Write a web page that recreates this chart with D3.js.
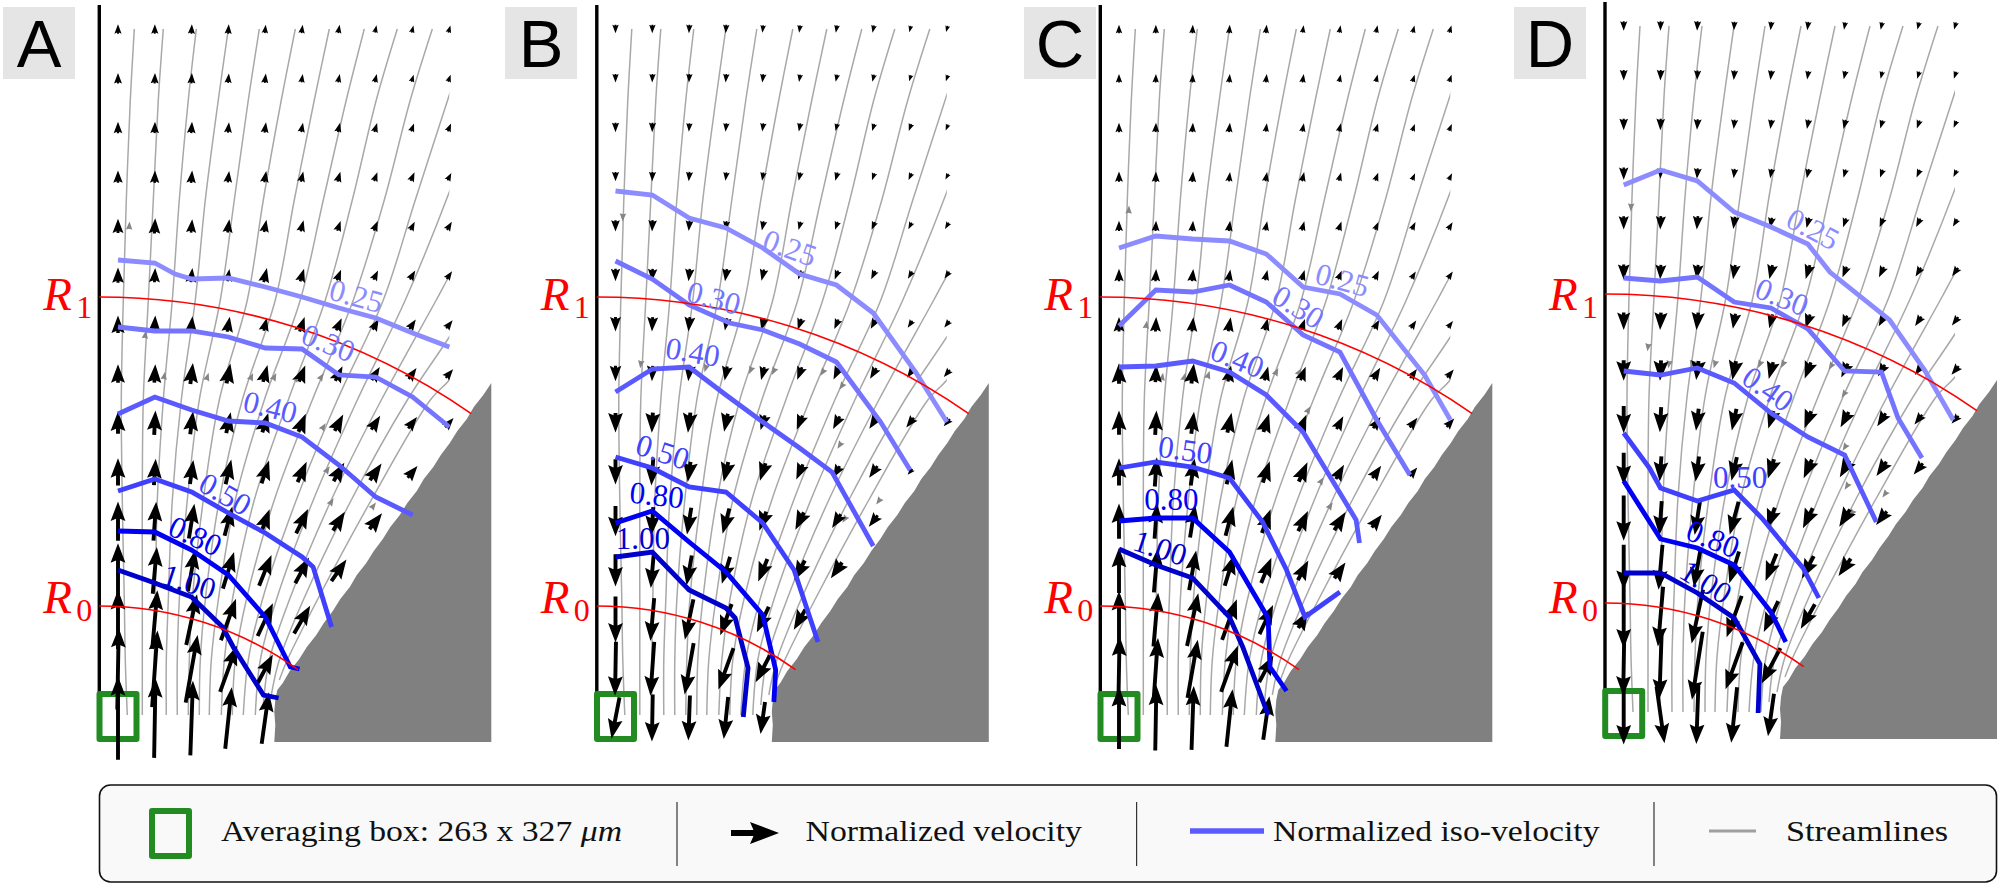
<!DOCTYPE html>
<html><head><meta charset="utf-8">
<script src="https://cdn.jsdelivr.net/npm/d3@7"></script>
<style>html,body{margin:0;padding:0;background:#fff}svg{display:block}</style>
</head><body><svg id="c" width="2000" height="887"></svg>
<script>
// ---------- categories ----------
const panelNames = ["A","B","C","D"];
const panelAxisX = [99.3,596.8,1100.3,1605];
const panelShiftY = [0,0,0,-3];
const tagX = [3,505,1024,1514];
const flowSign = [1,-1,1,-1];          // +1 flow towards the top, -1 towards the bottom
const isoLevels = ["0.25","0.30","0.40","0.50","0.80","1.00"];
const isoColors = ["#8c8cff","#7474ff","#5a5aff","#4040ff","#0000f5","#0000cc"];
const rowCols = [10,10,10,10,10,10,10,10,10,9,8,7,6,5,5]; // arrows per grid row

// ---------- normalized speed (percent), per grid row ----------
const speedA = [
[14,14,14,14,12,12,12,10,10,10],[16,16,16,14,14,12,12,12,10,10],[18,18,18,16,16,14,14,14,12,12],
[20,20,20,18,18,16,16,14,14,12],[24,26,22,22,20,18,16,16,14,14],[26,24,24,20,24,22,18,16,16,14],
[30,30,28,26,22,26,22,20,18,16],[32,32,38,36,30,30,28,26,22,18],[40,44,42,38,36,34,32,28,24,20],
[50,48,44,46,44,40,38,36,26],[74,74,66,56,46,50,40,36],[104,90,80,72,62,54,48],
[114,114,100,84,68,60],[160,150,134,94,60],[164,156,146,120,100]];
const speedB = [
[12,12,12,12,10,10,10,10,8,8],[12,12,12,12,12,10,10,10,8,8],[14,14,12,12,12,12,10,10,10,8],
[14,14,14,12,12,12,12,10,10,8],[18,18,16,14,14,12,12,12,10,10],[20,20,20,20,18,14,14,14,12,12],
[24,24,24,20,20,18,16,16,12,12],[26,26,26,24,22,22,22,20,16,14],[34,36,36,32,26,26,24,24,20,14],
[46,50,36,36,32,28,22,24,10],[56,52,50,48,36,34,28,24],[60,66,56,52,44,40,34],
[88,82,78,62,52,42],[104,104,100,84,56],[80,90,86,80,60]];
const speedC = [
[12,12,12,12,12,10,10,10,10,10],[12,12,12,12,12,12,10,10,10,10],[14,14,14,14,12,12,12,12,10,10],
[16,16,16,14,14,14,12,12,10,10],[16,16,16,16,14,14,14,12,12,12],[20,20,20,18,16,16,14,14,12,12],
[24,24,24,24,20,18,18,16,14,12],[36,30,36,28,24,24,24,22,18,16],[44,44,40,36,34,30,24,22,20,18],
[50,54,50,46,40,38,28,26,18],[66,66,62,56,46,40,38,28],[86,84,76,60,50,40,34],
[110,104,104,82,60,34],[126,120,114,94,56],[120,126,124,112,84]];
const speedD = [
[14,14,14,12,12,12,10,10,10,10],[16,16,14,14,14,12,12,10,10,10],[18,18,16,14,14,14,14,12,12,10],
[20,16,16,14,14,14,12,12,12,10],[22,22,22,20,16,16,14,14,14,12],[26,24,24,24,24,24,18,18,16,16],
[30,30,30,26,24,24,20,18,18,16],[36,36,34,34,30,30,26,22,18,18],[50,46,40,40,32,32,30,26,20,16],
[60,46,46,44,36,36,34,30,24],[86,64,64,64,40,40,36,30],[86,86,76,62,54,46,38],
[124,116,106,84,64,52],[116,128,134,96,76],[114,110,112,108,82]];
const speeds = [speedA,speedB,speedC,speedD];

// ---------- tilt of the velocity from the vertical, degrees ----------
const tilt = [
[0,1,3,4,6,8,10,12,14,16],[0,2,3,5,7,9,12,14,17,19],[0,2,4,6,8,11,14,17,20,23],
[0,2,5,7,10,13,16,20,24,27],[0,3,5,8,11,15,19,23,27,31],[0,3,6,9,13,17,22,26,31,35],
[0,3,6,10,14,19,24,29,34,38],[0,3,7,11,15,21,26,31,36,40],[0,3,7,12,17,22,28,33,38,42],
[0,4,8,13,18,24,30,35,40],[0,4,9,15,20,26,32,38],[0,5,10,17,22,28,35],
[0,5,12,20,25,30],[1,4,10,20,28],[0,1,2,6,8]];
const tiltExceptions = [[1,14,0,11],[3,14,1,-8],[3,13,1,2],[3,13,2,9]]; // panel,row,col,deg

// ---------- iso-velocity lines: [grid column, height] ----------
const isoA = [
[[0,260],[1,263],[1.55,274],[2,279],[3,278],[4,287],[5,297],[6,308],[7,318],[8,333],[9,347]],
[[0,327],[1,331],[2,331],[3,337],[4,348],[5,349],[6,375],[7,377],[8,397],[9,427]],
[[0,414],[1,397],[2,410],[3,421],[4,423],[5,437],[6,465],[7,497],[8,515]],
[[0,491],[1,479],[2,492],[3,513],[4,533],[5,557],[5.3,567],[5.8,627]],
[[0,531],[1,532],[2,550],[3,575],[4,617],[4.68,667],[4.93,669]],
[[0,570],[1,583],[2,597],[2.84,627],[3.13,647],[3.95,695],[4.36,698]]];
const isoB = [
[[0,191],[1,195],[2,218],[3,228],[4,248],[5,274],[6,285],[7,313],[8.15,372],[9,422]],
[[0,261],[1,279],[2,305],[3.1,323],[4,330],[5,344],[6,362],[7.2,422],[8,470]],
[[0,392],[1,369],[2,367],[3,395],[4,422],[5,448],[5.88,472],[7,546]],
[[0,457],[1,468],[2,487],[3,492],[4,523],[4.85,570],[5.5,642]],
[[0,523],[1,511],[2,542],[3,572],[4,615],[4.35,670],[4.3,702]],
[[0,557],[1,552],[2,590],[3,608],[3.25,618],[3.6,668],[3.47,717]]];
const isoC = [
[[0,248],[1,236],[2,239],[3,241],[4,254],[5,287],[6,294],[7,315],[8.3,375],[9,420]],
[[0,326],[1,290],[2,292],[3,285],[4,302],[5,335],[6,352],[7,420],[7.9,475]],
[[0,367],[1,366],[2,361],[3,372],[4,395],[5,432],[6,493],[6.44,520],[6.53,543]],
[[6,592],[5.05,617],[4.55,570],[3.9,522],[3,478],[2,467],[1,462],[0,468]],
[[0,521],[1,518],[2,518],[3,552],[4.05,618],[4.1,667],[4.55,691]],
[[0,549],[1,565],[2,578],[3,617],[3.36,647],[4.05,715]]];
const isoD = [
[[0,185],[1,170],[2,181],[3,212],[4,227],[5,244],[5.6,272],[7.22,320],[8.17,370],[8.95,420]],
[[0,278],[1,281],[2,277],[3,302],[4,308],[5,329],[6,371],[7,372],[7.45,418],[8.1,458]],
[[0,371],[1,375],[2,368],[3,383],[4,413],[5,437],[6,455],[6.86,522]],
[[0,433],[0.7,468],[1,488],[2,501],[3,490],[3.75,518],[4.87,568],[5.3,598]],
[[0,481],[1,539],[2,548],[3,565],[4,612],[4.4,642]],
[[0,573],[1,573],[2,593],[3,618],[3.7,664],[3.65,713]]];
const isoLines = [isoA,isoB,isoC,isoD];

// ---------- contour labels: [across, height, rotation] (same order as isoLevels) ----------
const labelsA = [[257,296,15],[229,343,22],[171,407,14],[126,494,30],[96,536,25],[90,582,18]];
const labelsB = [[193,248,20],[117,298,15],[96,352,10],[66,452,18],[60,495,6],[46,538,0]];
const labelsC = [[242,280,15],[198,307,32],[137,359,22],[85,450,8],[71,499,0],[60,548,18]];
const labelsD = [[208,229,28],[177,297,22],[163,389,35],[135,477,0],[108,539,22],[101,582,32]];
const isoLabels = [labelsA,labelsB,labelsC,labelsD];

// ---------- streamlines: [across, height] ----------
const streamlines = [
[[28,715],[26,660],[25,600],[23,500],[22,400],[24,300],[27,200],[31,100],[35,29]],
[[43,715],[43,600],[43,500],[44,400],[49,300],[54,200],[59,100],[64,29]],
[[55,715],[55,660],[56,600],[58,500],[64,400],[73,300],[80,200],[89,100],[97,29]],
[[67,715],[67,660],[69,600],[73,500],[82,400],[96,300],[106,200],[119,100],[129,29]],
[[78,715],[78,660],[80,600],[88,500],[100,400],[121,300],[135,200],[149,100],[160,29]],
[[89,715],[90,660],[93,600],[104,500],[120,400],[148,300],[164,200],[182,100],[196,29]],
[[100,715],[101,660],[106,600],[120,500],[143,400],[176,300],[195,200],[215,100],[230,29]],
[[110,715],[112,660],[119,600],[136,500],[165,400],[201,300],[224,200],[247,100],[265,29]],
[[122,715],[125,660],[133,600],[155,500],[189,400],[226,300],[253,200],[277,100],[298,29]],
[[133,715],[136,660],[147,600],[175,500],[213,400],[254,300],[285,200],[311,100],[333,29]],
[[144,715],[149,660],[163,600],[197,500],[238,400],[284,300],[316,200],[350,95],[372,29]],
[[156,715],[161,660],[177,600],[214,500],[258,400],[306,300],[350,192],[382,100]],
[[164,705],[170,660],[190,600],[232,500],[282,400],[337,300],[350,276],[396,200]],
[[172,695],[180,660],[204,600],[252,500],[308,400],[350,337],[392,270]],
[[180,680],[188,660],[218,600],[272,500],[331,400],[350,380],[385,330]]];

// ---------- small arrowheads riding on the streamlines: [across, height, tilt] ----------
const headsA = [[30,226,3],[46,335,8],[65,376,10],[108,377,18],[152,377,24],[175,377,27],[197,378,30],[222,377,33],[224,427,33],[228,470,33],[232,502,32],[274,506,37]];
const headsB = [[26,217,3],[44,364,8],[109,368,18],[154,370,24],[177,371,27],[226,372,33],[245,386,35],[243,445,33],[282,501,37],[248,519,33]];
const headsC = [[28.5,210,3],[46,325,8],[62,377,10],[84,377,14],[108,375,18],[176,372,27],[199,372,30],[208,410,30],[221,481,32],[230,506,33]];
const headsD = [[26,210,3],[43,350,8],[64,367,10],[87,367,14],[110,367,18],[155,367,24],[178,367,27],[226,369,33],[239,397,34],[240,450,33],[242,489,33],[280,497,37],[247,516,33]];
const heads = [headsA,headsB,headsC,headsD];

// ---------- obstacle outline, red radii ----------
const wedge = [[175,742],[176,725],[175,712],[176,700],[178,690],[183.5,683],[190.5,671],[200,659],[207.5,647],[217,635],[224.5,623],[233.5,611],[241,599],[250.5,587],[257.5,575],[267,563],[274.5,551],[283.5,539],[291,527],[300.5,515],[308,503],[317.5,491],[324.5,479],[334,467],[341.5,455],[350.5,443],[358,431],[367.5,419],[374.5,407],[384,395],[392,383],[392,742]];
const radii = [["R","0",342,0.62,613],["R","1",651,0.608,310]];  // name, sub, radius, arc end, label height
const radiusCentreY = 948;

// ---------- legend text ----------
const legendBoxText = ["Averaging box: 263 x 327 ","μm"];
const legendTexts = [["Normalized velocity",805.5,276.5],["Normalized iso-velocity",1273,326.5],["Streamlines",1786,162]];
const legendRules = [677,1136.6,1654];

// ---------- drawing ----------
const svg = d3.select("#c");
const SERIF = "'Liberation Serif',serif", SANS = "'Liberation Sans',sans-serif";
const speedLen = d3.scaleLinear().domain([0,100]).range([2.5,52]);
const quiverPath = d3.line();
function quiver(L,w){                 // quiver polygon, pointing up, centred on its middle
  const full = 5*w, k = L<full ? L/full : 1, hl = full*k, ha = 4.4*w*k, hw = 1.9*w*k, sw = w/2*k, h = L/2;
  return quiverPath([[-sw,h],[-sw,-h+ha],[-hw,-h+hl],[0,-h],[hw,-h+hl],[sw,-h+ha],[sw,h]])+"Z";
}
panelNames.forEach((name,p)=>{
  const ax = panelAxisX[p], dy = panelShiftY[p];
  const col = d3.scaleLinear().domain([0,9]).range([ax+18.7,ax+18.7+331.4]);
  const row = d3.scaleLinear().domain([0,14]).range([29+dy,718+dy]);
  const across = d3.scaleLinear().domain([0,500]).range([ax,ax+500]);
  const height = d3.scaleLinear().domain([0,887]).range([dy,887+dy]);
  const heightAbs = d3.scaleLinear().domain([0,887]).range([0,887]);
  const g = svg.append("g").attr("class","panel-"+name);
  const clipId = "clip"+name;
  g.append("clipPath").attr("id",clipId).append("rect")
    .attr("x",across(0)).attr("y",0).attr("width",across(350)-across(0)).attr("height",887);

  // panel tag
  g.append("rect").attr("x",tagX[p]).attr("y",7).attr("width",72).attr("height",72).attr("fill","#e5e5e5");
  g.append("text").attr("x",tagX[p]+36).attr("y",67).attr("text-anchor","middle")
    .attr("font-family",SANS).attr("font-size",67).attr("fill","#000").text(name);

  // wall
  g.append("line").attr("x1",across(0)).attr("x2",across(0)).attr("y1",height(5)).attr("y2",height(738))
    .attr("stroke","#000").attr("stroke-width",3.4);

  // streamlines
  const sl = d3.line().x(d=>across(d[0])).y(d=>height(d[1])).curve(d3.curveCatmullRom.alpha(0.5));
  g.append("g").attr("clip-path",`url(#${clipId})`).selectAll("path").data(streamlines).join("path")
    .attr("d",sl).attr("fill","none").attr("stroke","#a8a8a8").attr("stroke-width",1.5);

  // obstacle
  const wl = d3.line().x(d=>across(d[0])).y(d=>height(d[1]));
  g.append("path").attr("d",wl(wedge)+"Z").attr("fill","#808080");

  // small gray heads
  g.append("g").selectAll("path").data(heads[p]).join("path")
    .attr("d","M0,-4.4L3.2,3.6L0,2.8L-3.2,3.6Z").attr("fill","#858585")
    .attr("transform",d=>`translate(${across(d[0])},${height(d[1])}) rotate(${flowSign[p]>0?d[2]:d[2]+180})`);

  // averaging box
  g.append("rect").attr("x",across(0.2)).attr("y",height(694)).attr("width",37).attr("height",45)
    .attr("fill","none").attr("stroke","#228b22").attr("stroke-width",6).attr("stroke-linejoin","round");

  // velocity arrows
  const arrows = [];
  speeds[p].forEach((vals,r)=>vals.slice(0,rowCols[r]).forEach((v,c)=>{
    const ex = tiltExceptions.find(e=>e[0]==p&&e[1]==r&&e[2]==c);
    arrows.push({r,c,v,t:ex?ex[3]:tilt[r][c]});
  }));
  g.append("g").selectAll("path").data(arrows).join("path")
    .attr("d",d=>quiver(speedLen(d.v),3.9)).attr("fill","#000")
    .attr("transform",d=>`translate(${col(d.c)},${row(d.r)}) rotate(${flowSign[p]>0?d.t:d.t+180})`);

  // iso-velocity lines
  const il = d3.line().x(d=>col(d[0])).y(d=>heightAbs(d[1]));
  g.append("g").selectAll("path").data(isoLines[p]).join("path")
    .attr("d",il).attr("fill","none").attr("stroke",(d,i)=>isoColors[i]).attr("stroke-width",4.8)
    .attr("stroke-linejoin","miter");

  // red radii
  const arc = d3.arc();
  radii.forEach(rd=>{
    g.append("path").attr("d",arc({innerRadius:rd[2],outerRadius:rd[2],startAngle:0,endAngle:rd[3]}))
      .attr("transform",`translate(${across(0)},${height(radiusCentreY)})`)
      .attr("fill","none").attr("stroke","#ff0000").attr("stroke-width",1.6);
    g.append("text").attr("x",across(-56)).attr("y",heightAbs(rd[4])).attr("font-family",SERIF)
      .attr("font-style","italic").attr("font-size",47).attr("fill","#ff0000").text(rd[0]);
    g.append("text").attr("x",across(-23)).attr("y",heightAbs(rd[4]+8)).attr("font-family",SERIF)
      .attr("font-size",32).attr("fill","#ff0000").text(rd[1]);
  });

  // contour labels
  g.append("g").selectAll("text").data(isoLabels[p]).join("text")
    .attr("transform",d=>`translate(${across(d[0])},${heightAbs(d[1])}) rotate(${d[2]})`)
    .attr("text-anchor","middle").attr("dominant-baseline","central")
    .attr("font-family",SERIF).attr("font-size",31).attr("fill",(d,i)=>isoColors[i])
    .text((d,i)=>isoLevels[i]);
});

// legend
const lg = svg.append("g").attr("class","legend");
lg.append("rect").attr("x",99.5).attr("y",785).attr("width",1897).attr("height",97).attr("rx",11)
  .attr("fill","#f9f9f9").attr("stroke","#111").attr("stroke-width",1.6);
lg.append("rect").attr("x",152).attr("y",811).attr("width",37).attr("height",45)
  .attr("fill","none").attr("stroke","#228b22").attr("stroke-width",6).attr("stroke-linejoin","round");
const t0 = lg.append("text").attr("x",221).attr("y",841).attr("font-family",SERIF).attr("font-size",29)
  .attr("textLength",401).attr("lengthAdjust","spacingAndGlyphs").attr("fill","#111");
t0.append("tspan").text(legendBoxText[0]);
t0.append("tspan").attr("font-style","italic").text(legendBoxText[1]);
legendTexts.forEach(t=>lg.append("text").attr("x",t[1]).attr("y",841).attr("font-family",SERIF).attr("font-size",29)
  .attr("textLength",t[2]).attr("lengthAdjust","spacingAndGlyphs").attr("fill","#111").text(t[0]));
legendRules.forEach(x=>lg.append("line").attr("x1",x).attr("x2",x).attr("y1",802).attr("y2",866)
  .attr("stroke","#333").attr("stroke-width",1.2));
lg.append("path").attr("d",quiver(48,5.8)).attr("transform","translate(755,833) rotate(90)").attr("fill","#000");
lg.append("line").attr("x1",1190).attr("x2",1264).attr("y1",831).attr("y2",831).attr("stroke","#5a5aff").attr("stroke-width",5.5);
lg.append("line").attr("x1",1709).attr("x2",1756).attr("y1",831).attr("y2",831).attr("stroke","#a0a0a0").attr("stroke-width",3);
</script></body></html>
